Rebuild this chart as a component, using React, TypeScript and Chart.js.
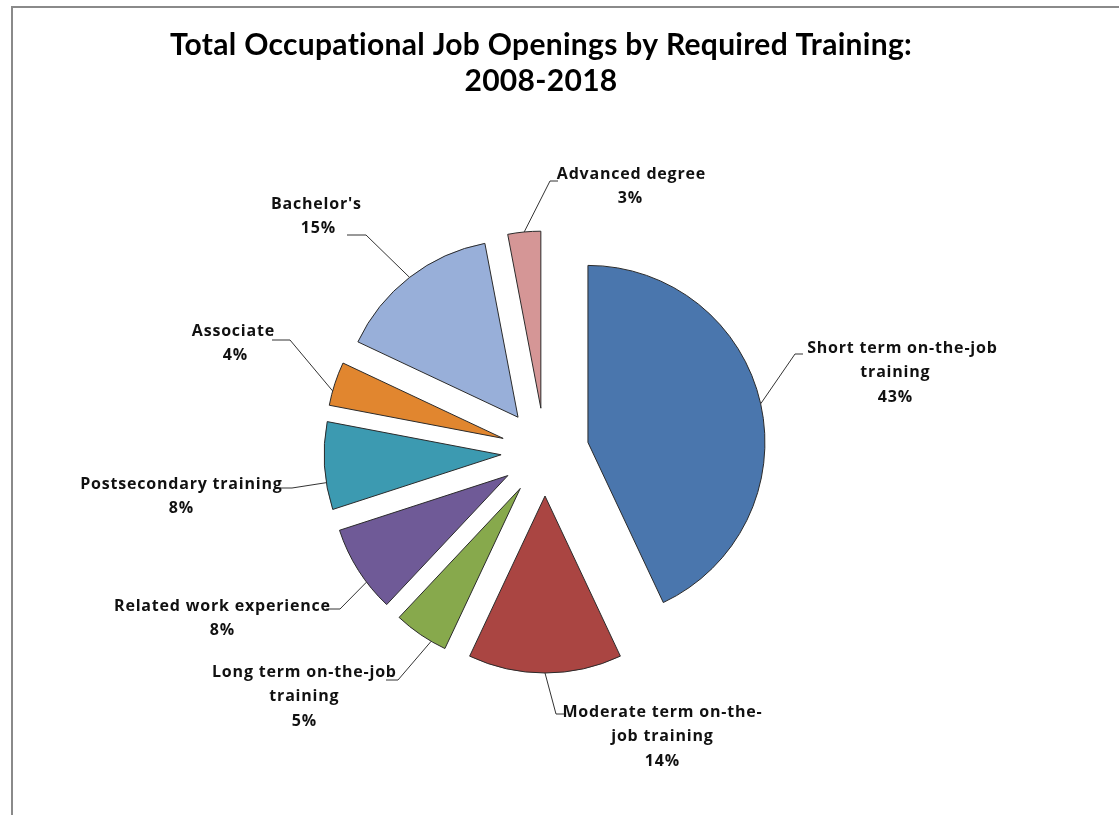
import React, { useEffect, useRef } from "react";
import { Chart, registerables } from "chart.js";

Chart.register(...registerables);

// ---- data ----
const categories = [
  "Short term on-the-job training",
  "Moderate term on-the-job training",
  "Long term on-the-job training",
  "Related work experience",
  "Postsecondary training",
  "Associate",
  "Bachelor's",
  "Advanced degree",
];
const shares = [43, 14, 5, 8, 8, 4, 15, 3];
const sliceColors = [
  "#4A76AD",
  "#AA4542",
  "#87A94C",
  "#6F5A97",
  "#3C9AB1",
  "#E1862F",
  "#98AFD9",
  "#D59696",
];
const labelLines = [
  ["Short term on-the-job", "training", "43%"],
  ["Moderate term on-the-", "job training", "14%"],
  ["Long term on-the-job", "training", "5%"],
  ["Related work experience", "8%"],
  ["Postsecondary training", "8%"],
  ["Associate", "4%"],
  ["Bachelor's", "15%"],
  ["Advanced degree", "3%"],
];
const titleLines = ["Total Occupational Job Openings by Required Training:", "2008-2018"];

// ---- layout (label placement, leader lines) ----
const EXPLODE = 44;
const RADIUS = 177;
const CENTER = { x: 545, y: 452 };
const labelLayout = [
  { xs: [902, 895, 895], y: 348, start: [803, 354], elbow: [795, 354], f: 0.5 },
  { xs: [662, 662, 662], y: 712, start: [565, 714], elbow: [556, 714], f: 0.5 },
  { xs: [304, 304, 304], y: 672, start: [386, 680], elbow: [398, 680], f: 0.28 },
  { xs: [222, 222], y: 606, start: [326, 609], elbow: [340, 609], f: 0.34 },
  { xs: [181, 181], y: 484, start: [280, 488], elbow: [292, 488], f: 0.31 },
  { xs: [233, 235], y: 331, start: [272, 340], elbow: [290, 340], f: 0.33 },
  { xs: [316, 318], y: 204, start: [347, 235], elbow: [366, 235], f: 0.5 },
  { xs: [631, 630], y: 174, start: [558, 181], elbow: [550, 181], f: 0.5 },
];
const LINE_H = 24.5;

const explodePlugin = {
  id: "explode",
  beforeDatasetDraw(chart: any, args: any) {
    const ctx = chart.ctx;
    args.meta.data.forEach((arc: any) => {
      const mid = (arc.startAngle + arc.endAngle) / 2;
      ctx.save();
      ctx.translate(Math.cos(mid) * EXPLODE, Math.sin(mid) * EXPLODE);
      arc.draw(ctx);
      ctx.restore();
    });
    return false;
  },
};

const decorPlugin = {
  id: "decor",
  beforeDraw(chart: any) {
    const ctx = chart.ctx;
    ctx.save();
    ctx.fillStyle = "#ffffff";
    ctx.fillRect(0, 0, chart.width, chart.height);
    ctx.strokeStyle = "#8a8a8a";
    ctx.lineWidth = 2;
    ctx.beginPath();
    ctx.moveTo(12, chart.height + 2);
    ctx.lineTo(12, 7);
    ctx.lineTo(chart.width + 2, 7);
    ctx.stroke();
    ctx.restore();
  },
  afterDraw(chart: any) {
    const ctx = chart.ctx;
    ctx.save();
    // title
    ctx.fillStyle = "#000000";
    ctx.textAlign = "center";
    ctx.textBaseline = "middle";
    ctx.font = "bold 30px Lato, 'Open Sans', sans-serif";
    (ctx as any).letterSpacing = "0.3px";
    ctx.fillText(titleLines[0], 541, 45);
    ctx.fillText(titleLines[1], 541, 81);

    // labels + leaders
    const meta = chart.getDatasetMeta(0);
    ctx.font = "bold 16px 'Open Sans', Lato, sans-serif";
    (ctx as any).letterSpacing = "0.8px";
    meta.data.forEach((arc: any, i: number) => {
      const L = labelLayout[i];
      const mid = (arc.startAngle + arc.endAngle) / 2;
      const ox = arc.x + Math.cos(mid) * EXPLODE;
      const oy = arc.y + Math.sin(mid) * EXPLODE;
      const a = arc.startAngle + (arc.endAngle - arc.startAngle) * L.f;
      const ex = ox + Math.cos(a) * arc.outerRadius;
      const ey = oy + Math.sin(a) * arc.outerRadius;
      ctx.strokeStyle = "#333333";
      ctx.lineWidth = 1;
      ctx.beginPath();
      ctx.moveTo(L.start[0], L.start[1]);
      ctx.lineTo(L.elbow[0], L.elbow[1]);
      ctx.lineTo(ex, ey);
      ctx.stroke();
      ctx.fillStyle = "#111111";
      labelLines[i].forEach((t, k) => {
        ctx.fillText(t, L.xs[k] + 0.4, L.y + k * LINE_H);
      });
    });
    ctx.restore();
  },
};

export default function App() {
  const ref = useRef<HTMLCanvasElement | null>(null);
  useEffect(() => {
    if (!ref.current) return;
    const W = 1119;
    const H = 815;
    const half = 250;
    const chart = new Chart(ref.current, {
      type: "pie",
      data: {
        labels: categories,
        datasets: [
          {
            data: shares,
            backgroundColor: sliceColors,
            borderColor: "#2b2b2b",
            borderWidth: 1,
          },
        ],
      },
      options: {
        animation: false,
        responsive: false,
        maintainAspectRatio: false,
        radius: RADIUS,
        layout: {
          padding: {
            left: CENTER.x - half,
            right: W - CENTER.x - half,
            top: CENTER.y - half,
            bottom: H - CENTER.y - half,
          },
        },
        plugins: {
          legend: { display: false },
          tooltip: { enabled: false },
          title: { display: false },
        },
      } as any,
      plugins: [explodePlugin, decorPlugin],
    });
    return () => chart.destroy();
  }, []);
  return (
    <div style={{ position: "fixed", left: 0, top: 0, width: 1119, height: 815, overflow: "hidden" }}>
      <canvas ref={ref} width={1119} height={815} style={{ display: "block", width: 1119, height: 815 }} />
    </div>
  );
}
